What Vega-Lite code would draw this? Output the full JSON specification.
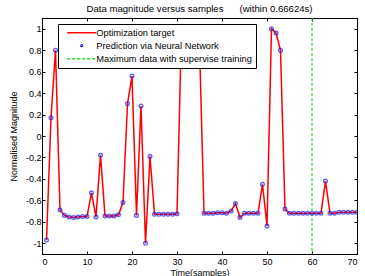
{
  "$schema": "https://vega.github.io/schema/vega-lite/v6.json",
  "width": 315,
  "height": 236,
  "autosize": {"type": "none"},
  "padding": {"left": 42, "top": 18, "right": 8, "bottom": 22},
  "title": {"text": "Data magnitude versus samples\u00a0\u00a0\u00a0\u00a0\u00a0\u00a0(within 0.66624s)", "fontSize": 9.6, "fontWeight": "normal", "font": "Liberation Sans", "offset": 4, "anchor": "middle", "color": "black"},
  "config": {
    "font": "Liberation Sans",
    "view": {"stroke": "black", "strokeWidth": 1},
    "axis": {"domainColor": "black", "tickColor": "black", "labelColor": "black", "titleColor": "black", "labelFontSize": 9, "titleFontSize": 9, "titleFontWeight": "normal", "grid": false, "tickSize": -3}
  },
  "data": {"values": [
    {"t":1,"v":-0.97},{"t":2,"v":0.17},{"t":3,"v":0.8},{"t":4,"v":-0.69},{"t":5,"v":-0.74},
    {"t":6,"v":-0.755},{"t":7,"v":-0.76},{"t":8,"v":-0.755},{"t":9,"v":-0.75},{"t":10,"v":-0.75},
    {"t":11,"v":-0.53},{"t":12,"v":-0.755},{"t":13,"v":-0.18},{"t":14,"v":-0.745},{"t":15,"v":-0.745},
    {"t":16,"v":-0.745},{"t":17,"v":-0.735},{"t":18,"v":-0.62},{"t":19,"v":0.3},{"t":20,"v":0.56},
    {"t":21,"v":-0.74},{"t":22,"v":0.28},{"t":23,"v":-1.0},{"t":24,"v":-0.19},{"t":25,"v":-0.73},
    {"t":26,"v":-0.73},{"t":27,"v":-0.73},{"t":28,"v":-0.73},{"t":29,"v":-0.73},{"t":30,"v":-0.725},
    {"t":31,"v":1.0},{"t":32,"v":0.98},{"t":33,"v":0.95},{"t":34,"v":0.97},{"t":35,"v":0.85},
    {"t":36,"v":-0.72},{"t":37,"v":-0.72},{"t":38,"v":-0.72},{"t":39,"v":-0.715},{"t":40,"v":-0.715},
    {"t":41,"v":-0.72},{"t":42,"v":-0.7},{"t":43,"v":-0.63},{"t":44,"v":-0.76},{"t":45,"v":-0.72},
    {"t":46,"v":-0.72},{"t":47,"v":-0.72},{"t":48,"v":-0.72},{"t":49,"v":-0.45},{"t":50,"v":-0.84},
    {"t":51,"v":1.0},{"t":52,"v":0.96},{"t":53,"v":0.8},{"t":54,"v":-0.68},{"t":55,"v":-0.72},
    {"t":56,"v":-0.72},{"t":57,"v":-0.72},{"t":58,"v":-0.72},{"t":59,"v":-0.72},{"t":60,"v":-0.72},
    {"t":61,"v":-0.72},{"t":62,"v":-0.72},{"t":63,"v":-0.42},{"t":64,"v":-0.72},{"t":65,"v":-0.72},
    {"t":66,"v":-0.71},{"t":67,"v":-0.71},{"t":68,"v":-0.71},{"t":69,"v":-0.71},{"t":70,"v":-0.71}
  ]},
  "layer": [
    {
      "data": {"values": [{"t": 60}]},
      "mark": {"type": "rule", "strokeDash": [3, 2], "strokeWidth": 1.2},
      "encoding": {
        "x": {"field": "t", "type": "quantitative", "scale": {"domain": [0, 70], "nice": false}, "axis": null},
        "color": {"datum": "Maximum data with supervise training"}
      }
    },
    {
      "mark": {"type": "line", "clip": true, "strokeWidth": 1.5},
      "encoding": {
        "x": {"field": "t", "type": "quantitative", "scale": {"domain": [0, 70], "nice": false},
              "axis": {"orient": "bottom", "values": [0,10,20,30,40,50,60,70], "title": "Time(samples)", "labelPadding": 6, "titlePadding": 2}},
        "y": {"field": "v", "type": "quantitative", "scale": {"domain": [-1.1, 1.1], "nice": false, "zero": false},
              "axis": {"orient": "left", "values": [-1,-0.8,-0.6,-0.4,-0.2,0,0.2,0.4,0.6,0.8,1], "title": "Normalised Magnitude", "labelPadding": 4, "titlePadding": 7,
                       "labelExpr": "(datum.value < 0 ? '-' : '') + format(abs(datum.value), '.1~f')"}},
        "color": {"datum": "Optimization target",
                  "scale": {"domain": ["Optimization target", "Prediction via Neural Network", "Maximum data with supervise training"], "range": ["#ff0000", "#1a1aee", "#22dd22"]},
                  "legend": {"title": null, "orient": "none", "legendX": 16, "legendY": 6,
                             "fillColor": "white", "strokeColor": "black", "padding": 4,
                             "labelFontSize": 9.3, "labelColor": "black", "labelOffset": 10, "symbolOffset": 15,
                             "symbolSize": 841, "symbolStrokeWidth": 1.5, "rowPadding": 3,
                             "encode": {"symbols": {"update": {
                               "size": {"value": 841},
                               "shape": {"signal": "datum.value === 'Prediction via Neural Network' ? 'M0.07,0A0.07,0.07,0,1,1,-0.07,0A0.07,0.07,0,1,1,0.07,0Z' : 'stroke'"},
                               "strokeDash": {"signal": "datum.value === 'Maximum data with supervise training' ? [3,2] : [1,0]"},
                               "strokeWidth": {"signal": "datum.value === 'Prediction via Neural Network' ? 1.2 : 1.5"},
                               "fill": {"value": "transparent"}
                             }}}}}
      }
    },
    {
      "mark": {"type": "point", "clip": true, "filled": false, "size": 14, "strokeWidth": 1.3},
      "encoding": {
        "x": {"field": "t", "type": "quantitative", "scale": {"domain": [0, 70], "nice": false},
              "axis": {"orient": "top", "values": [0,10,20,30,40,50,60,70], "labels": false, "title": null}},
        "y": {"field": "v", "type": "quantitative", "scale": {"domain": [-1.1, 1.1], "nice": false, "zero": false},
              "axis": {"orient": "right", "values": [-1,-0.8,-0.6,-0.4,-0.2,0,0.2,0.4,0.6,0.8,1], "labels": false, "title": null}},
        "color": {"datum": "Prediction via Neural Network"}
      }
    }
  ],
  "resolve": {"axis": {"x": "independent", "y": "independent"}}
}
